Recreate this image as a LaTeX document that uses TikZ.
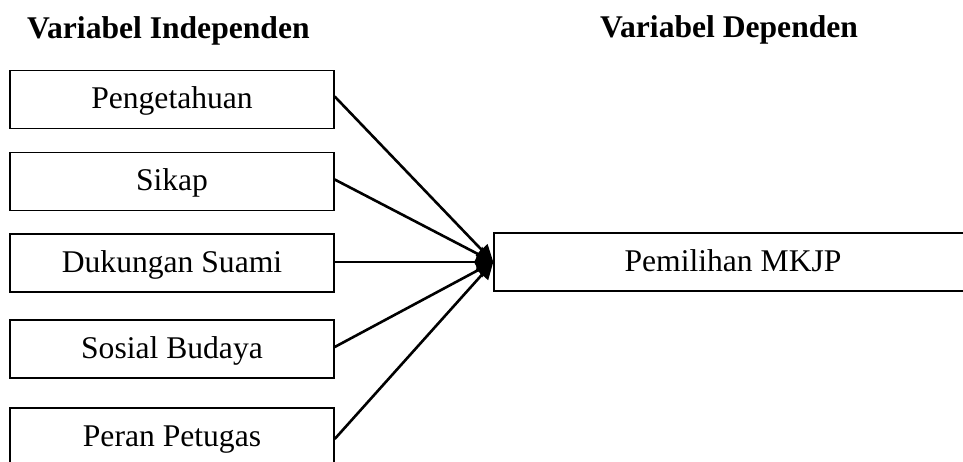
\documentclass[tikz,border=0pt]{standalone}
\usepackage{fontspec}
\setmainfont{Liberation Serif}
\usetikzlibrary{arrows.meta}
\begin{document}
\begin{tikzpicture}[x=1pt,y=-1pt,
  box/.style={draw, line width=1.4pt, minimum height=58pt, inner sep=0pt,
    text height=18pt, text depth=0pt, font=\fontsize{31.6}{38}\selectfont},
  srcbox/.style={box, minimum width=324pt},
  conn/.style={line width=2.6pt, -{Triangle[length=17pt,width=16pt]}},
  head/.style={anchor=base west, inner sep=0pt, font=\fontsize{31.6}{38}\selectfont\bfseries}]
\useasboundingbox (0,0) rectangle (963,461);
\node[head] (h1) at (27,38) {Variabel Independen};
\node[head] (h2) at (600,37) {Variabel Dependen};
\node[srcbox] (b1) at (172,99.5) {Pengetahuan};
\node[srcbox] (b2) at (172,181.5) {Sikap};
\node[srcbox] (b3) at (172,263) {Dukungan Suami};
\node[srcbox] (b4) at (172,349) {Sosial Budaya};
\node[srcbox] (b5) at (172,437) {Peran Petugas};
\node[box, minimum width=478pt] (t) at (733,262) {Pemilihan MKJP};
\draw[conn] ([yshift=3pt]b1.east) -- (t.west);
\draw[conn] ([yshift=2pt]b2.east) -- (t.west);
\draw[conn] ([yshift=1pt]b3.east) -- (t.west);
\draw[conn] ([yshift=2pt]b4.east) -- (t.west);
\draw[conn] ([yshift=-2pt]b5.east) -- (t.west);
\end{tikzpicture}
\end{document}
